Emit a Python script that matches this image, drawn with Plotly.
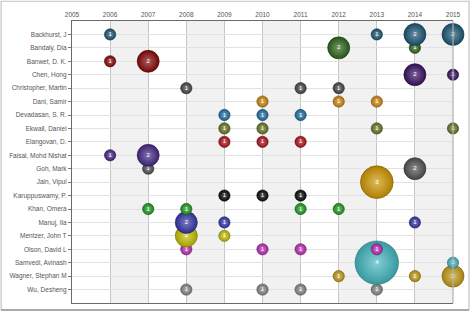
import plotly.graph_objects as go

names = ["Backhurst, J", "Bandaly, Dia", "Banwet, D. K.", "Chen, Hong", "Christopher, Martin",
         "Dani, Samir", "Devadasan, S. R.", "Ekwall, Daniel", "Elangovan, D.", "Faisal, Mohd Nishat",
         "Goh, Mark", "Jain, Vipul", "Karuppuswamy, P.", "Khan, Omera", "Manuj, Ila",
         "Mentzer, John T", "Olson, David L", "Samvedi, Avinash", "Wagner, Stephan M", "Wu, Desheng"]

years = list(range(2005, 2016))

# publications per author: (years, counts)
pub_years = [
    [2006, 2013, 2014, 2015],
    [2012, 2014],
    [2006, 2007],
    [2014, 2015],
    [2008, 2011, 2012],
    [2010, 2012, 2013],
    [2009, 2010, 2011],
    [2009, 2010, 2013, 2015],
    [2009, 2010, 2011],
    [2006, 2007],
    [2007, 2014],
    [2013],
    [2009, 2010, 2011],
    [2007, 2008, 2011, 2012],
    [2008, 2009, 2014],
    [2008, 2009],
    [2008, 2010, 2011, 2013],
    [2013, 2015],
    [2012, 2014, 2015],
    [2008, 2010, 2011, 2013],
]
pub_counts = [
    [1, 1, 2, 2],
    [2, 1],
    [1, 2],
    [2, 1],
    [1, 1, 1],
    [1, 1, 1],
    [1, 1, 1],
    [1, 1, 1, 1],
    [1, 1, 1],
    [1, 2],
    [1, 2],
    [3],
    [1, 1, 1],
    [1, 1, 1, 1],
    [2, 1, 1],
    [2, 1],
    [1, 1, 1, 1],
    [4, 1],
    [1, 1, 2],
    [1, 1, 1, 1],
]
colors = ["#1c5674", "#2d651b", "#860808", "#3a1262", "#464646",
          "#cc8510", "#1f6fa3", "#667526", "#ad121c", "#472785",
          "#505050", "#cf9600", "#080808", "#1f9a1f", "#3636a6",
          "#c2be00", "#ba2cb2", "#42b6be", "#c29a16", "#858585"]


def lighten(hexc, f):
    h = hexc.lstrip("#")
    r, g, b = int(h[0:2], 16), int(h[2:4], 16), int(h[4:6], 16)
    r = int(r + (255 - r) * f); g = int(g + (255 - g) * f); b = int(b + (255 - b) * f)
    return "#%02x%02x%02x" % (r, g, b)


def darken(hexc, f):
    h = hexc.lstrip("#")
    r, g, b = int(h[0:2], 16), int(h[2:4], 16), int(h[4:6], 16)
    return "#%02x%02x%02x" % (int(r * f), int(g * f), int(b * f))


fig = go.Figure()
for i in reversed(range(len(names))):
    yrs = pub_years[i]
    cnt = pub_counts[i]
    fig.add_trace(go.Scatter(
        x=yrs, y=[i + 1] * len(yrs),
        mode="markers+text",
        text=[str(c) for c in cnt],
        textposition="middle center",
        textfont=dict(size=6, color="white", family="Liberation Sans, Arial"),
        marker=dict(
            size=[c * 10.7 + 0.6 for c in cnt],
            sizemode="diameter",
            color=darken(colors[i], 0.85),
            gradient=dict(type="radial", color=lighten(colors[i], 0.35)),
            line=dict(width=0.6, color=darken(colors[i], 0.6)),
            opacity=1,
        ),
        hoverinfo="text",
        hovertext=[f"{names[i]}: {y} ({c})" for y, c in zip(yrs, cnt)],
        showlegend=False,
        cliponaxis=False,
    ))

shapes = []
for y0 in years[1:-1:2]:
    shapes.append(dict(type="rect", xref="x", yref="paper", x0=y0, x1=y0 + 1, y0=0, y1=1,
                       fillcolor="#f1f1f1", line=dict(width=0), layer="below"))
# right border of plot area
shapes.append(dict(type="line", xref="paper", yref="paper", x0=1, x1=1, y0=0, y1=1,
                   line=dict(color="#b0b0b0", width=1.2)))
# outer chart frame
shapes.append(dict(type="rect", xref="paper", yref="paper", x0=-0.186, x1=1.042, y0=-0.0245, y1=1.07,
                   line=dict(color="#c4c4c4", width=1.2), fillcolor="rgba(0,0,0,0)"))
shapes.append(dict(type="line", xref="paper", yref="paper", x0=-0.186, x1=1.042, y0=-0.0245, y1=-0.0245,
                   line=dict(color="#9a9a9a", width=1.5)))

fig.update_layout(
    width=471, height=313,
    margin=dict(l=72, r=18, t=21, b=10),
    paper_bgcolor="white", plot_bgcolor="white",
    shapes=shapes,
    xaxis=dict(range=[2005, 2015], side="top", tickmode="array", tickvals=years,
               ticktext=[str(y) for y in years],
               tickfont=dict(size=6.5, color="#555555", family="Liberation Sans, Arial"),
               showgrid=True, gridcolor="#c6c6c6", gridwidth=1,
               showline=True, linecolor="#6a6a6a", linewidth=1.2, mirror=True,
               ticks="", zeroline=False, fixedrange=True),
    yaxis=dict(range=[21, 0], tickmode="array", tickvals=list(range(1, len(names) + 1)),
               ticktext=names,
               tickfont=dict(size=6.5, color="#555555", family="Liberation Sans, Arial"),
               showgrid=True, gridcolor="#e2e2e2", gridwidth=1,
               showline=True, linecolor="#6a6a6a", linewidth=1.2,
               ticks="outside", ticklen=3, tickcolor="#777777",
               zeroline=False, fixedrange=True),
)

fig.write_html("out.html")
